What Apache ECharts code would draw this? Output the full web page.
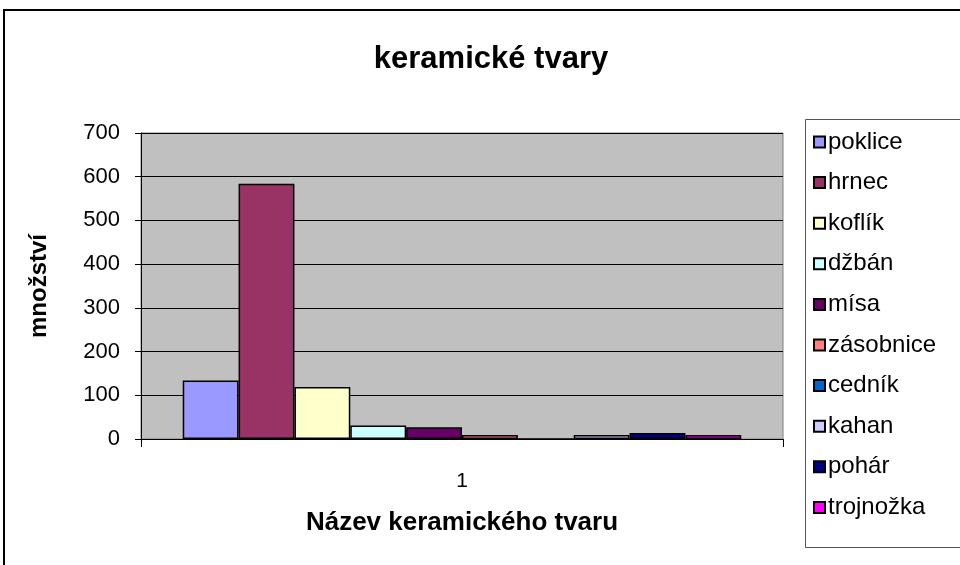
<!DOCTYPE html>
<html>
<head>
<meta charset="utf-8">
<script src="https://cdn.jsdelivr.net/npm/echarts@6/dist/echarts.min.js"></script>
<style>
  html, body { margin: 0; padding: 0; background: #fff; }
  #chart { width: 960px; height: 565px; }
</style>
</head>
<body>
<div id="chart"></div>
<script>
// Counts of ceramic shapes, one series per shape
const categories = ['1'];
const shapeNames = ['poklice', 'hrnec', 'koflík', 'džbán', 'mísa', 'zásobnice', 'cedník', 'kahan', 'pohár', 'trojnožka'];
const shapeCounts = [134, 584, 119, 31, 27, 9, 0, 9, 14, 9];
const shapeColors = ['#9999FF', '#993366', '#FFFFCC', '#CCFFFF', '#660066', '#FF8080', '#0066CC', '#CCCCFF', '#000080', '#FF00FF'];
const yTicks = { min: 0, max: 700, interval: 100 };

const FONT = 'Liberation Sans, Arial, sans-serif';

const chart = echarts.init(document.getElementById('chart'), null, { renderer: 'canvas' });

const series = shapeNames.map((name, i) => ({
  name: name,
  type: 'bar',
  data: [shapeCounts[i]],
  barGap: '0%',
  barCategoryGap: '13%',
  itemStyle: { color: shapeColors[i], borderColor: '#000', borderWidth: 1.5 },
  emphasis: { disabled: true },
  animation: false
}));

chart.setOption({
  animation: false,
  backgroundColor: '#fff',
  title: {
    text: 'keramické tvary',
    left: 486,
    top: 39,
    textAlign: 'center',
    textStyle: { fontFamily: FONT, fontSize: 31, fontWeight: 'bold', color: '#000' }
  },
  grid: {
    left: 141, top: 133, right: 177, bottom: 126,
    show: true, backgroundColor: '#C0C0C0', borderColor: '#808080', borderWidth: 1
  },
  legend: {
    orient: 'vertical',
    left: 813,
    top: 130,
    padding: 0,
    itemWidth: 11,
    itemHeight: 11,
    itemGap: 16.6,
    icon: 'rect',
    data: shapeNames,
    selectedMode: false,
    textStyle: { fontFamily: FONT, fontSize: 24, color: '#000', lineHeight: 24, padding: [0, 0, 0, -2] }
  },
  xAxis: {
    type: 'category',
    data: categories,
    axisLine: { lineStyle: { color: '#000', width: 1 } },
    axisTick: { show: true, length: 8, lineStyle: { color: '#000' } },
    axisLabel: { fontFamily: FONT, fontSize: 21, color: '#000', margin: 32 },
    name: 'Název keramického tvaru',
    nameLocation: 'middle',
    nameGap: 71,
    nameTextStyle: { fontFamily: FONT, fontSize: 26, fontWeight: 'bold', color: '#000' }
  },
  yAxis: {
    type: 'value',
    min: yTicks.min,
    max: yTicks.max,
    interval: yTicks.interval,
    axisLine: { show: true, lineStyle: { color: '#000', width: 1 } },
    axisTick: { show: true, length: 6, inside: false, lineStyle: { color: '#000' } },
    axisLabel: { fontFamily: FONT, fontSize: 22, color: '#000', margin: 21 },
    splitLine: { show: true, lineStyle: { color: '#000', width: 1 } },
    name: 'množství',
    nameLocation: 'middle',
    nameGap: 90,
    nameTextStyle: { fontFamily: FONT, fontSize: 24, fontWeight: 'bold', color: '#000' }
  },
  graphic: [
    {
      type: 'rect',
      shape: { x: 4, y: 10, width: 970, height: 570 },
      style: { fill: null, stroke: '#000', lineWidth: 2 },
      silent: true, z: -1
    },
    {
      type: 'rect',
      shape: { x: 805.5, y: 119.5, width: 170, height: 428 },
      style: { fill: '#fff', stroke: '#555', lineWidth: 1 },
      silent: true, z: -1
    }
  ],
  series: series
});
</script>
</body>
</html>
